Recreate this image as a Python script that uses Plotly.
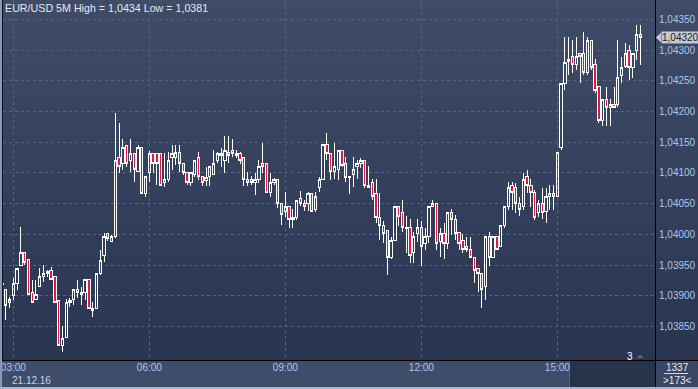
import plotly.graph_objects as go
import pandas as pd

# ---- data: EUR/USD 5-minute candles, 21.12.16, 02:45 .. 16:50 ----
times = pd.date_range("2016-12-21 02:45", periods=170, freq="5min")

open_ = [
    1.03918, 1.03911, 1.03890, 1.03900, 1.03921, 1.03950, 1.03970, 1.03960, 1.03905, 1.03895,
    1.03915, 1.03931, 1.03936, 1.03941, 1.03931, 1.03893, 1.03820, 1.03833, 1.03889, 1.03895,
    1.03910, 1.03903, 1.03905, 1.03926, 1.03880, 1.03879, 1.03936, 1.03965, 1.04001, 1.03989,
    1.03996, 1.04126, 1.04116, 1.04144, 1.04120, 1.04131, 1.04103, 1.04141, 1.04066, 1.04100,
    1.04131, 1.04131, 1.04131, 1.04084, 1.04089, 1.04126, 1.04126, 1.04134, 1.04116, 1.04100,
    1.04085, 1.04097, 1.04126, 1.04095, 1.04087, 1.04095, 1.04098, 1.04120, 1.04128, 1.04120,
    1.04134, 1.04136, 1.04132, 1.04131, 1.04126, 1.04090, 1.04090, 1.04085, 1.04090, 1.04116,
    1.04116, 1.04069, 1.04084, 1.04090, 1.04051, 1.04038, 1.04046, 1.04025, 1.04028, 1.04059,
    1.04051, 1.04051, 1.04066, 1.04040, 1.04076, 1.04089, 1.04146, 1.04131, 1.04103, 1.04105,
    1.04136, 1.04116, 1.04092, 1.04098, 1.04110, 1.04116, 1.04121, 1.04080, 1.04084, 1.04066,
    1.04028, 1.04015, 1.04006, 1.03963, 1.03991, 1.04045, 1.04035, 1.04009, 1.04011, 1.03970,
    1.04001, 1.04011, 1.03986, 1.03996, 1.04045, 1.04051, 1.03989, 1.04001, 1.03986, 1.04035,
    1.04025, 1.04004, 1.03991, 1.03981, 1.03975, 1.03963, 1.03945, 1.03936, 1.03915, 1.03996,
    1.03963, 1.03996, 1.03980, 1.04015, 1.04045, 1.04080, 1.04076, 1.04051, 1.04046, 1.04095,
    1.04080, 1.04069, 1.04035, 1.04051, 1.04038, 1.04061, 1.04066, 1.04061, 1.04141, 1.04246,
    1.04282, 1.04289, 1.04276, 1.04295, 1.04295, 1.04264, 1.04316, 1.04276, 1.04240, 1.04186,
    1.04220, 1.04206, 1.04211, 1.04211, 1.04259, 1.04274, 1.04300, 1.04271, 1.04300, 1.04326,
]
high = [
    1.03931, 1.03911, 1.03898, 1.03929, 1.03945, 1.04012, 1.03970, 1.03960, 1.03926, 1.03926,
    1.03945, 1.03950, 1.03942, 1.03947, 1.03931, 1.03893, 1.03851, 1.03895, 1.03897, 1.03910,
    1.03926, 1.03915, 1.03926, 1.03926, 1.03890, 1.03936, 1.03975, 1.04002, 1.04002, 1.03999,
    1.04198, 1.04181, 1.04155, 1.04146, 1.04155, 1.04131, 1.04146, 1.04141, 1.04095, 1.04136,
    1.04131, 1.04131, 1.04132, 1.04132, 1.04134, 1.04146, 1.04146, 1.04146, 1.04116, 1.04100,
    1.04100, 1.04121, 1.04134, 1.04095, 1.04110, 1.04110, 1.04137, 1.04134, 1.04141, 1.04160,
    1.04160, 1.04155, 1.04137, 1.04134, 1.04126, 1.04102, 1.04095, 1.04100, 1.04121, 1.04149,
    1.04116, 1.04100, 1.04092, 1.04090, 1.04051, 1.04069, 1.04046, 1.04041, 1.04056, 1.04071,
    1.04056, 1.04069, 1.04066, 1.04069, 1.04093, 1.04146, 1.04165, 1.04131, 1.04149, 1.04136,
    1.04136, 1.04126, 1.04095, 1.04126, 1.04121, 1.04124, 1.04121, 1.04111, 1.04090, 1.04090,
    1.04067, 1.04022, 1.04006, 1.03996, 1.04045, 1.04045, 1.04056, 1.04030, 1.04025, 1.04004,
    1.04025, 1.04022, 1.04011, 1.04045, 1.04056, 1.04051, 1.04011, 1.04019, 1.04035, 1.04041,
    1.04032, 1.04004, 1.04001, 1.03996, 1.03996, 1.03963, 1.03945, 1.03936, 1.03996, 1.04004,
    1.03996, 1.03996, 1.04015, 1.04045, 1.04085, 1.04085, 1.04084, 1.04061, 1.04100, 1.04105,
    1.04090, 1.04072, 1.04056, 1.04076, 1.04076, 1.04080, 1.04080, 1.04134, 1.04246, 1.04321,
    1.04321, 1.04316, 1.04321, 1.04295, 1.04329, 1.04321, 1.04316, 1.04285, 1.04240, 1.04220,
    1.04240, 1.04220, 1.04240, 1.04316, 1.04289, 1.04311, 1.04308, 1.04295, 1.04341, 1.04341,
]
low = [
    1.03910, 1.03861, 1.03880, 1.03893, 1.03910, 1.03950, 1.03950, 1.03902, 1.03890, 1.03893,
    1.03915, 1.03923, 1.03931, 1.03926, 1.03890, 1.03819, 1.03809, 1.03833, 1.03882, 1.03885,
    1.03897, 1.03885, 1.03893, 1.03880, 1.03866, 1.03879, 1.03934, 1.03955, 1.03989, 1.03988,
    1.03994, 1.04100, 1.04105, 1.04110, 1.04102, 1.04085, 1.04102, 1.04066, 1.04061, 1.04085,
    1.04100, 1.04080, 1.04080, 1.04077, 1.04085, 1.04105, 1.04113, 1.04102, 1.04097, 1.04080,
    1.04079, 1.04093, 1.04089, 1.04079, 1.04079, 1.04079, 1.04098, 1.04116, 1.04110, 1.04100,
    1.04116, 1.04126, 1.04124, 1.04115, 1.04079, 1.04079, 1.04080, 1.04064, 1.04084, 1.04100,
    1.04069, 1.04061, 1.04080, 1.04043, 1.04015, 1.04028, 1.04011, 1.04011, 1.04024, 1.04046,
    1.04038, 1.04038, 1.04038, 1.04037, 1.04069, 1.04089, 1.04121, 1.04089, 1.04090, 1.04089,
    1.04110, 1.04085, 1.04066, 1.04077, 1.04090, 1.04108, 1.04076, 1.04076, 1.04056, 1.04019,
    1.03991, 1.03986, 1.03934, 1.03960, 1.03991, 1.04014, 1.04004, 1.03970, 1.03954, 1.03954,
    1.03988, 1.03949, 1.03975, 1.03986, 1.04045, 1.03975, 1.03963, 1.03960, 1.03976, 1.03999,
    1.03991, 1.03975, 1.03970, 1.03971, 1.03963, 1.03921, 1.03906, 1.03880, 1.03893, 1.03949,
    1.03963, 1.03975, 1.03980, 1.04011, 1.04040, 1.04040, 1.04035, 1.04030, 1.04040, 1.04068,
    1.04045, 1.04024, 1.04028, 1.04025, 1.04019, 1.04040, 1.04040, 1.04061, 1.04137, 1.04235,
    1.04259, 1.04263, 1.04268, 1.04246, 1.04259, 1.04259, 1.04268, 1.04230, 1.04181, 1.04176,
    1.04176, 1.04176, 1.04206, 1.04207, 1.04246, 1.04271, 1.04251, 1.04254, 1.04284, 1.04276,
]
close = [
    1.03921, 1.03885, 1.03895, 1.03921, 1.03945, 1.03970, 1.03955, 1.03902, 1.03890, 1.03903,
    1.03931, 1.03937, 1.03939, 1.03926, 1.03890, 1.03820, 1.03830, 1.03889, 1.03892, 1.03910,
    1.03905, 1.03906, 1.03926, 1.03880, 1.03876, 1.03936, 1.03958, 1.03996, 1.03993, 1.03996,
    1.04121, 1.04111, 1.04141, 1.04116, 1.04132, 1.04105, 1.04141, 1.04066, 1.04095, 1.04131,
    1.04116, 1.04116, 1.04080, 1.04090, 1.04121, 1.04131, 1.04134, 1.04116, 1.04100, 1.04085,
    1.04100, 1.04121, 1.04095, 1.04085, 1.04092, 1.04110, 1.04116, 1.04131, 1.04132, 1.04136,
    1.04129, 1.04131, 1.04129, 1.04120, 1.04090, 1.04084, 1.04085, 1.04090, 1.04111, 1.04111,
    1.04069, 1.04084, 1.04090, 1.04051, 1.04033, 1.04046, 1.04025, 1.04028, 1.04056, 1.04051,
    1.04045, 1.04066, 1.04038, 1.04061, 1.04089, 1.04146, 1.04131, 1.04103, 1.04111, 1.04136,
    1.04113, 1.04093, 1.04095, 1.04105, 1.04116, 1.04120, 1.04080, 1.04076, 1.04061, 1.04028,
    1.04015, 1.04001, 1.03963, 1.03991, 1.04045, 1.04030, 1.04011, 1.04011, 1.03965, 1.03996,
    1.04011, 1.03981, 1.03996, 1.04045, 1.04051, 1.03986, 1.04001, 1.03986, 1.04035, 1.04025,
    1.04001, 1.03986, 1.03975, 1.03975, 1.03963, 1.03941, 1.03936, 1.03911, 1.03996, 1.03963,
    1.03996, 1.03975, 1.04015, 1.04045, 1.04076, 1.04069, 1.04051, 1.04040, 1.04090, 1.04080,
    1.04069, 1.04028, 1.04051, 1.04035, 1.04061, 1.04066, 1.04061, 1.04134, 1.04246, 1.04279,
    1.04285, 1.04276, 1.04289, 1.04289, 1.04264, 1.04316, 1.04271, 1.04235, 1.04186, 1.04220,
    1.04206, 1.04211, 1.04206, 1.04256, 1.04271, 1.04295, 1.04271, 1.04295, 1.04325, 1.04320,
]

price_ticks = [1.0385, 1.0390, 1.0395, 1.0400, 1.0405, 1.0410, 1.0415, 1.0420, 1.0425, 1.0430, 1.0435]
date_label = "21.12.16"
symbol = "EUR/USD 5M"
footer_top = "1337"
footer_bottom = ">173<"
marker_count = "3"

# ---- geometry (pixels of the 698x389 page) ----
W, H = 698, 389
PL, PR, PT, PB = 3, 655, 0, 360          # plot area box


def px(x):  # page x pixel -> paper x
    return (x - PL) / (PR - PL)


def py(y):  # page y pixel -> paper y
    return (PB - y) / (PB - PT)


FONT = "Liberation Sans, Arial, sans-serif"

fig = go.Figure()
fig.add_trace(go.Candlestick(
    x=times, open=open_, high=high, low=low, close=close,
    increasing=dict(line=dict(color="#ffffff", width=1), fillcolor="rgba(0,0,0,0)"),
    decreasing=dict(line=dict(color="#ffffff", width=1), fillcolor="#e8163f"),
    whiskerwidth=0, hoverinfo="skip", showlegend=False,
))

shapes = []
# vertical gradient background over plot + right scale
top_c, bot_c = (63, 76, 103), (42, 53, 81)
N = 45
for i in range(N):
    t = i / (N - 1)
    c = tuple(round(top_c[j] + (bot_c[j] - top_c[j]) * t) for j in range(3))
    y0 = PT + (PB - PT) * i / N
    y1 = PT + (PB - PT) * (i + 1) / N + 0.5
    shapes.append(dict(type="rect", xref="paper", yref="paper", layer="below",
                       x0=px(0), x1=px(W), y0=py(y1), y1=py(y0),
                       fillcolor="rgb(%d,%d,%d)" % c, line=dict(width=0)))
# bottom time band dark section
shapes.append(dict(type="rect", xref="paper", yref="paper", layer="below",
                   x0=px(569), x1=px(PR), y0=py(387), y1=py(PB),
                   fillcolor="#27324b", line=dict(width=0)))
shapes.append(dict(type="line", xref="paper", yref="paper", layer="below",
                   x0=px(569.5), x1=px(569.5), y0=py(387), y1=py(PB),
                   line=dict(color="#56627a", width=1)))
# bottom right info cell
shapes.append(dict(type="rect", xref="paper", yref="paper", layer="below",
                   x0=px(PR), x1=px(W), y0=py(387), y1=py(PB),
                   fillcolor="#3a4763", line=dict(width=0)))
# borders
shapes.append(dict(type="line", xref="paper", yref="paper",
                   x0=px(0), x1=px(W), y0=py(360.5), y1=py(360.5),
                   line=dict(color="#000000", width=1)))
shapes.append(dict(type="line", xref="paper", yref="paper",
                   x0=px(655.5), x1=px(655.5), y0=py(0), y1=py(H),
                   line=dict(color="#000000", width=1)))
shapes.append(dict(type="line", xref="paper", yref="paper",
                   x0=px(2.5), x1=px(2.5), y0=py(0), y1=py(360),
                   line=dict(color="#0d1220", width=1)))
shapes.append(dict(type="rect", xref="paper", yref="paper",
                   x0=px(0), x1=px(2), y0=py(H), y1=py(0),
                   fillcolor="#8a99b2", line=dict(width=0)))
shapes.append(dict(type="rect", xref="paper", yref="paper",
                   x0=px(0), x1=px(W), y0=py(H), y1=py(387),
                   fillcolor="#a9b5c8", line=dict(width=0)))
# footer separator line
shapes.append(dict(type="line", xref="paper", yref="paper",
                   x0=px(664), x1=px(688), y0=py(373.5), y1=py(373.5),
                   line=dict(color="#cfd7e3", width=1)))
# small triangle next to marker count
shapes.append(dict(type="path", xref="paper", yref="paper",
                   path="M %f,%f L %f,%f L %f,%f Z" % (px(636), py(358.5), px(644), py(358.5), px(640), py(354.5)),
                   fillcolor="#59657e", line=dict(width=0)))
# current price tag arrow
last = close[-1]
dy = 5 / ((PB - PT) / (1.043814 - 1.037958))
shapes.append(dict(type="path", xref="paper", yref="y",
                   path="M %f,%f L %f,%f L %f,%f Z" % (px(656), last, px(661), last + dy, px(661), last - dy),
                   fillcolor="#c3c9d2", line=dict(width=0)))

annotations = [
    dict(xref="paper", yref="paper", x=px(3), y=py(8), xanchor="left", yanchor="middle",
         text="%s High = %s Low = %s" % (symbol, ("%.4f" % max(high)).replace(".", ","),
                                           ("%.4f" % min(low)).replace(".", ",")),
         showarrow=False, font=dict(family=FONT, size=10.7, color="#e4e9f0")),
    dict(xref="paper", yref="paper", x=px(10), y=py(380.5), xanchor="left", yanchor="middle",
         text=date_label, showarrow=False, font=dict(family=FONT, size=10, color="#c9d3e2")),
    dict(xref="paper", yref="y", x=px(661), y=last, xanchor="left", yanchor="middle",
         text=("%.5f" % last).replace(".", ","), showarrow=False, bgcolor="#c3c9d2",
         borderpad=0, font=dict(family=FONT, size=10, color="#18202e")),
    dict(xref="paper", yref="paper", x=px(630), y=py(356), xanchor="center", yanchor="middle",
         text=marker_count, showarrow=False, font=dict(family=FONT, size=10, color="#ffffff")),
    dict(xref="paper", yref="paper", x=px(677), y=py(367), xanchor="center", yanchor="middle",
         text=footer_top, showarrow=False, font=dict(family=FONT, size=10, color="#e6ecf3")),
    dict(xref="paper", yref="paper", x=px(677), y=py(380.5), xanchor="center", yanchor="middle",
         text=footer_bottom, showarrow=False, font=dict(family=FONT, size=10, color="#e6ecf3")),
]

fig.update_layout(
    width=W, height=H,
    margin=dict(l=PL, r=W - PR, t=PT, b=H - PB, pad=0),
    paper_bgcolor="#3e4d69", plot_bgcolor="rgba(0,0,0,0)",
    separators=",.",
    shapes=shapes, annotations=annotations,
    showlegend=False, boxgap=0.12,
    xaxis=dict(
        type="date", range=["2016-12-21 02:46:20", "2016-12-21 17:09:15"],
        rangeslider=dict(visible=False),
        tick0="2016-12-21 03:00", dtick=3 * 3600 * 1000, tickformat="%H:%M",
        showgrid=True, gridcolor="#56637f", gridwidth=1, griddash="3px,3px",
        zeroline=False, showline=False, ticks="", automargin=False,
        tickfont=dict(family=FONT, size=10, color="#aac6ee"),
    ),
    yaxis=dict(
        side="right", range=[1.037958, 1.043814],
        tickvals=price_ticks, tickformat=".5f",
        showgrid=True, gridcolor="#56637f", gridwidth=1, griddash="3px,3px",
        zeroline=False, showline=False, ticks="", automargin=False,
        ticklabelstandoff=3,
        tickfont=dict(family=FONT, size=10, color="#aac6ee"),
    ),
)

post = (
    "document.body.style.margin='0';document.body.style.overflow='hidden';"
    "var gd=document.getElementsByClassName('plotly-graph-div')[0];"
    "function crisp(){document.querySelectorAll('.boxlayer path, .gridlayer path, .layer-above path')"
    ".forEach(function(p){p.style.shapeRendering='crispEdges';});}"
    "crisp();if(gd&&gd.on){gd.on('plotly_afterplot',crisp);}"
)

fig.write_html("out.html", config={"displayModeBar": False}, post_script=post)
